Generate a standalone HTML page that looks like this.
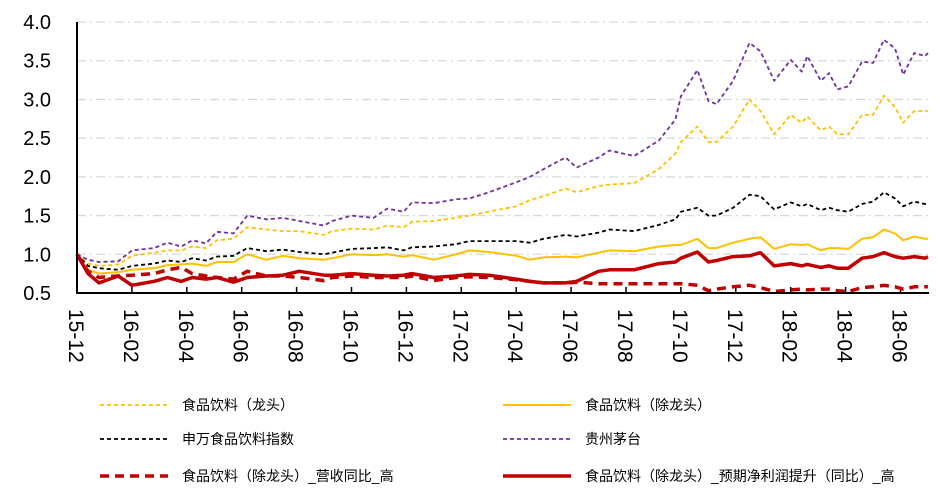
<!DOCTYPE html>
<html><head><meta charset="utf-8"><style>
body{margin:0;background:#fff;}
svg{display:block;font-family:"Liberation Sans","Noto Sans CJK SC",sans-serif;}
</style></head><body>
<svg id="chart" width="939" height="498"></svg>
<script>
const monthOffsets=[0,0.4,0.8,1.5,2,2.8,3.3,3.8,4.2,4.7,5.1,5.7,6.2,6.9,7.5,8.1,9,9.3,10,10.8,11.3,11.9,12.2,13,13.8,14.3,15,16,16.5,17,17.8,18.2,19,19.4,20.3,21.2,21.8,22,22.6,23,23.3,23.9,24.5,24.9,25.4,26,26.4,26.6,27.1,27.4,27.7,28.1,28.6,29,29.4,29.8,30.1,30.5,30.9,31];
const moutai=[1.0,0.93,0.9,0.91,1.05,1.08,1.15,1.1,1.18,1.14,1.29,1.27,1.5,1.45,1.47,1.43,1.37,1.43,1.5,1.47,1.59,1.55,1.67,1.66,1.71,1.72,1.8,1.93,2.0,2.1,2.25,2.12,2.25,2.34,2.27,2.47,2.74,3.04,3.38,2.98,2.94,3.24,3.73,3.62,3.24,3.51,3.36,3.56,3.24,3.34,3.13,3.17,3.49,3.47,3.77,3.66,3.32,3.6,3.56,3.6];
const leaders=[1.0,0.88,0.85,0.87,0.98,1.02,1.05,1.05,1.1,1.08,1.18,1.2,1.35,1.32,1.3,1.3,1.25,1.3,1.33,1.32,1.37,1.35,1.42,1.43,1.47,1.5,1.55,1.62,1.7,1.75,1.85,1.8,1.88,1.9,1.92,2.1,2.3,2.45,2.65,2.45,2.45,2.65,3.0,2.85,2.55,2.8,2.7,2.78,2.6,2.65,2.55,2.55,2.8,2.8,3.05,2.9,2.7,2.85,2.85,2.85];
const swIndex=[1.0,0.85,0.82,0.8,0.85,0.88,0.92,0.9,0.95,0.92,0.97,0.98,1.08,1.04,1.06,1.03,1.0,1.02,1.07,1.08,1.09,1.05,1.09,1.1,1.13,1.17,1.17,1.17,1.15,1.2,1.25,1.23,1.28,1.32,1.3,1.38,1.45,1.55,1.6,1.5,1.5,1.6,1.77,1.75,1.58,1.67,1.62,1.65,1.57,1.6,1.57,1.55,1.65,1.68,1.8,1.72,1.62,1.68,1.65,1.65];
const exLeaders=[1.0,0.8,0.75,0.77,0.8,0.82,0.86,0.87,0.88,0.85,0.9,0.9,1.0,0.93,0.98,0.95,0.93,0.95,1.0,0.99,1.0,0.97,0.99,0.93,1.0,1.05,1.03,0.98,0.93,0.96,0.97,0.96,1.02,1.05,1.04,1.1,1.12,1.12,1.2,1.08,1.08,1.15,1.2,1.22,1.07,1.13,1.12,1.13,1.05,1.08,1.08,1.07,1.2,1.22,1.32,1.27,1.18,1.23,1.2,1.2];
const revenueHigh=[1.0,0.78,0.7,0.72,0.73,0.75,0.8,0.83,0.75,0.72,0.7,0.68,0.78,0.72,0.72,0.7,0.66,0.7,0.72,0.7,0.7,0.7,0.72,0.66,0.7,0.71,0.7,0.67,0.65,0.63,0.63,0.64,0.62,0.62,0.62,0.62,0.62,0.62,0.6,0.53,0.55,0.58,0.6,0.57,0.52,0.54,0.55,0.54,0.55,0.55,0.53,0.52,0.57,0.58,0.6,0.58,0.55,0.58,0.58,0.58];
const profitHigh=[1.0,0.75,0.63,0.72,0.6,0.65,0.7,0.65,0.7,0.68,0.7,0.64,0.7,0.72,0.73,0.78,0.73,0.73,0.75,0.73,0.72,0.73,0.75,0.7,0.72,0.74,0.73,0.68,0.65,0.63,0.63,0.65,0.78,0.8,0.8,0.88,0.9,0.95,1.03,0.9,0.92,0.97,0.98,1.02,0.85,0.88,0.85,0.87,0.83,0.85,0.82,0.82,0.95,0.97,1.02,0.97,0.95,0.97,0.95,0.97];
const yTicks=[0.5,1.0,1.5,2.0,2.5,3.0,3.5,4.0];
const xTickLabels=["15-12","16-02","16-04","16-06","16-08","16-10","16-12","17-02","17-04","17-06","17-08","17-10","17-12","18-02","18-04","18-06"];

const NS="http://www.w3.org/2000/svg";
const svg=document.getElementById('chart');
const X0=77,X1=929,Y0=293,Y1=22;
const xs=t=>X0+t*27.45;
const ys=v=>Y0-(v-0.5)/(4.0-0.5)*(Y0-Y1);
function mk(tag,attrs,parent){const e=document.createElementNS(NS,tag);for(const k in attrs)e.setAttribute(k,attrs[k]);(parent||svg).appendChild(e);return e;}

const grid=mk('g',{});


yTicks.forEach(v=>{
  if(v>0.5){const l=mk('line',{x1:X0,x2:X1,y1:ys(v),y2:ys(v),stroke:'#d9d9d9','stroke-width':1.3,'stroke-dasharray':'9,4,2,4'},grid);
  
  }
  const t=mk('text',{x:51,y:ys(v)+7,'text-anchor':'end','font-size':20,fill:'#000'});
  t.textContent=v.toFixed(1);
  
  
});
xTickLabels.forEach((s,i)=>{
  const x=xs(i*2);
  const tk=mk('line',{x1:x,x2:x,y1:Y0,y2:Y0-6,stroke:'#000','stroke-width':1.5});
  
  
  const t=mk('text',{x:0,y:0,'font-size':21,fill:'#000',transform:`translate(${x-8},309) rotate(90)`});
  t.textContent=s;
  
  
});
const series=[
 {d:exLeaders,c:'#ffc000',w:2,da:'',n:'series-ex-leaders'},
 {d:leaders,c:'#ffc000',w:1.8,da:'4,3',n:'series-leaders'},
 {d:swIndex,c:'#000',w:1.8,da:'4,3',n:'series-sw-index'},
 {d:moutai,c:'#7030a0',w:1.8,da:'4,3',n:'series-moutai'},
 {d:revenueHigh,c:'#c00000',w:3.5,da:'9,6',n:'series-revenue-high'},
 {d:profitHigh,c:'#c00000',w:3.5,da:'',n:'series-profit-high'}
];
series.forEach(s=>{
  const p=mk('path',{d:s.d.map((v,i)=>(i?'L':'M')+xs(monthOffsets[i]).toFixed(1)+','+ys(v).toFixed(1)).join(''),fill:'none',stroke:s.c,'stroke-width':s.w,'stroke-dasharray':s.da,'stroke-linejoin':'round'});
  
  
});
const ax=mk('path',{d:`M${X0},${Y1}L${X0},${Y0}L${X1},${Y0}`,fill:'none',stroke:'#000','stroke-width':2});



const legend=[
 ['食品饮料（龙头）','#ffc000',1.8,'4,3',100,405],
 ['食品饮料（除龙头）','#ffc000',2,'',503,405],
 ['申万食品饮料指数','#000',1.8,'4,3',100,439],
 ['贵州茅台','#7030a0',1.8,'4,3',503,439],
 ['食品饮料（除龙头）_营收同比_高','#c00000',3.5,'9,6',100,476],
 ['食品饮料（除龙头）_预期净利润提升（同比）_高','#c00000',3.5,'',503,476]
];
legend.forEach(l=>{
  const g=mk('g',{});
  
  
  mk('line',{x1:l[4],x2:l[4]+68,y1:l[5],y2:l[5],stroke:l[1],'stroke-width':l[2],'stroke-dasharray':l[3]},g);
  const t=mk('text',{x:l[4]+82,y:l[5]+5,'font-size':14,fill:'#000'},g);
  t.textContent=l[0];
});
</script>
</body></html>
